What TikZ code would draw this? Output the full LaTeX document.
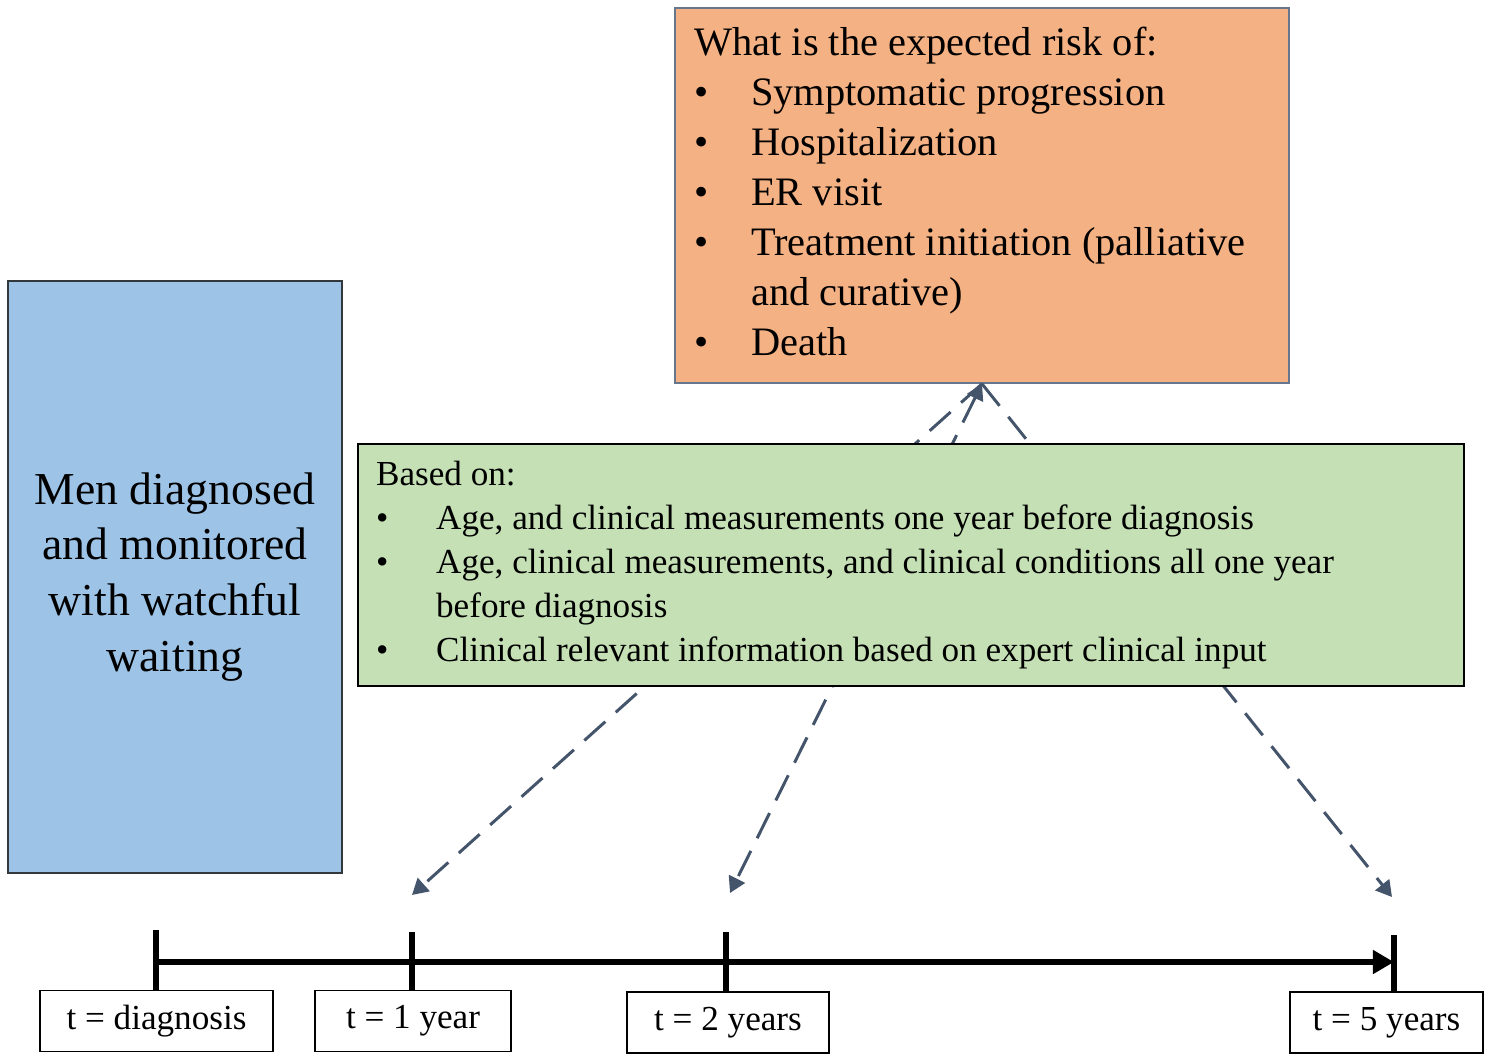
\documentclass[tikz,border=0pt]{standalone}
\usepackage{fontspec}
\setmainfont{Liberation Serif}
\usetikzlibrary{arrows.meta}
\definecolor{riskfill}{HTML}{F4B183}
\definecolor{riskline}{HTML}{66768C}
\definecolor{basefill}{HTML}{C5E0B4}
\definecolor{menfill}{HTML}{9DC3E6}
\definecolor{menline}{HTML}{33383C}
\definecolor{dashcol}{HTML}{44546A}
\tikzset{
  tbox/.style={draw,line width=0.8pt,fill=white,minimum height=1.22cm,
    font=\fontsize{20}{24}\selectfont,inner sep=0pt},
  tick/.style={line width=3.4pt},
  predict/.style={dashcol,line width=1.7pt,dash pattern=on 16pt off 8pt,
    -{Triangle[length=9pt,width=10pt]}}
}
\begin{document}
\begin{tikzpicture}[x=0.02cm,y=-0.02cm]
  \useasboundingbox (0,0) rectangle (1494,1055);

  \node[draw=riskline,line width=1pt,fill=riskfill,minimum width=12.28cm,
    minimum height=7.5cm,inner sep=0pt,font=\fontsize{23}{28.4}\selectfont]
    (risk) at (982,195.5) {%
    \begin{tabular}{@{}p{1.14cm}@{}l@{}}
      \multicolumn{2}{@{}l@{}}{What is the expected risk of:}\\
      \textbullet & Symptomatic progression\\
      \textbullet & Hospitalization\\
      \textbullet & ER visit\\
      \textbullet & Treatment initiation (palliative\\
                  & and curative)\\
      \textbullet & Death
    \end{tabular}\rule{0.48cm}{0pt}};

  \node[draw=menline,line width=1pt,fill=menfill,minimum width=6.68cm,
    minimum height=11.84cm,align=center,font=\fontsize{26}{31.8}\selectfont]
    (men) at (175,577) {Men diagnosed\\and monitored\\with watchful\\waiting};

  % timeline
  \coordinate (t0) at (156,962);
  \coordinate (t5) at (1394,962);
  \node[tbox,minimum width=4.66cm] (l0) at (156.5,1021) {t = diagnosis};
  \node[tbox,minimum width=3.92cm] (l1) at (413,1021) {t = 1 year};
  \node[tbox,minimum width=4.04cm] (l2) at (728,1022.5) {t = 2 years};
  \node[tbox,minimum width=3.86cm] (l5) at (1386.5,1022.5) {t = 5 years};
  \draw[tick,-{Triangle[length=12pt,width=13pt]}] (t0) -- (t5);
  \draw[tick] (156,930) -- (156,990);
  \draw[tick] (412,932) -- (412,990);
  \draw[tick] (726,932) -- (726,991);
  \draw[tick] (1394,935) -- (1394,991);

  % prediction arrows
  \coordinate (p1) at (412,895);
  \coordinate (p2) at (730,893);
  \coordinate (p5) at (1392,897);
  \draw[predict] (risk.south) -- (p1);
  \draw[predict,{Triangle[length=9pt,width=10pt]}-{Triangle[length=9pt,width=10pt]}]
    (risk.south) -- (p2);
  \draw[predict] (risk.south) -- (p5);

  \node[draw,line width=1pt,fill=basefill,minimum width=22.12cm,
    minimum height=4.84cm,inner sep=0pt,font=\fontsize{20}{25}\selectfont]
    (base) at (911,565) {%
    \begin{tabular}{@{}p{1.2cm}@{}l@{}}
      \multicolumn{2}{@{}l@{}}{Based on:}\\
      \textbullet & Age, and clinical measurements one year before diagnosis\\
      \textbullet & Age, clinical measurements, and clinical conditions all one year\\
                  & before diagnosis\\
      \textbullet & Clinical relevant information based on expert clinical input
    \end{tabular}\rule{2.24cm}{0pt}};
\end{tikzpicture}
\end{document}
